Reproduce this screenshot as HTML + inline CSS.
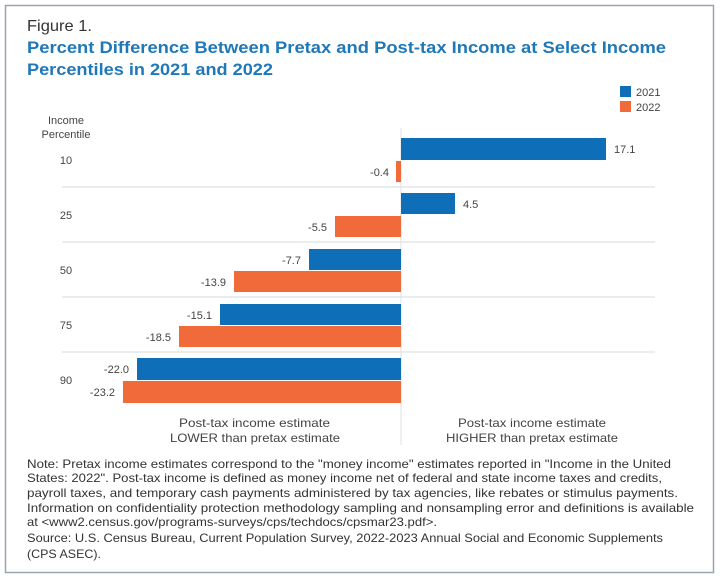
<!DOCTYPE html>
<html><head><meta charset="utf-8"><style>
body{margin:0;width:720px;height:580px;background:#fff;font-family:"Liberation Sans",sans-serif;overflow:hidden}
svg{position:absolute;left:0;top:0}
</style></head><body>
<svg width="720" height="580" font-family="Liberation Sans, sans-serif">
<rect x="5.5" y="5.5" width="708" height="567" fill="#fff" stroke="#9aa3b0" stroke-width="1.5"/>
<text x="27" y="31" font-size="16" fill="#333" textLength="65" lengthAdjust="spacingAndGlyphs">Figure 1.</text>
<text x="27" y="53" font-size="17" font-weight="bold" fill="#1f78b8" textLength="639" lengthAdjust="spacingAndGlyphs">Percent Difference Between Pretax and Post-tax Income at Select Income</text>
<text x="27" y="75" font-size="17" font-weight="bold" fill="#1f78b8" textLength="246" lengthAdjust="spacingAndGlyphs">Percentiles in 2021 and 2022</text>
<rect x="620" y="86" width="11" height="11" fill="#0e6fb8"/>
<text x="636" y="96" font-size="11" fill="#444">2021</text>
<rect x="620" y="101" width="11" height="11" fill="#f06a3a"/>
<text x="636" y="111" font-size="11" fill="#444">2022</text>
<text x="66" y="124" font-size="11" fill="#444" text-anchor="middle">Income</text>
<text x="66" y="138" font-size="11" fill="#444" text-anchor="middle">Percentile</text>
<g stroke="#e4e6ea" stroke-width="1.5">
<line x1="62" y1="187" x2="655" y2="187"/><line x1="62" y1="242" x2="655" y2="242"/>
<line x1="62" y1="297" x2="655" y2="297"/><line x1="62" y1="352" x2="655" y2="352"/>
</g>
<line x1="401" y1="128" x2="401" y2="445" stroke="#e0e0e0"/>
<g font-size="11" fill="#444">
<text x="66" y="164" text-anchor="middle">10</text>
<text x="66" y="219" text-anchor="middle">25</text>
<text x="66" y="274" text-anchor="middle">50</text>
<text x="66" y="329" text-anchor="middle">75</text>
<text x="66" y="384" text-anchor="middle">90</text>
</g>
<rect x="401" y="138" width="205" height="22" fill="#0e6fb8"/>
<rect x="396" y="161" width="5" height="21" fill="#f06a3a"/>
<rect x="401" y="193" width="54" height="21" fill="#0e6fb8"/>
<rect x="335" y="216" width="66" height="21" fill="#f06a3a"/>
<rect x="309" y="249" width="92" height="21" fill="#0e6fb8"/>
<rect x="234" y="271" width="167" height="21" fill="#f06a3a"/>
<rect x="220" y="304" width="181" height="21" fill="#0e6fb8"/>
<rect x="179" y="326" width="222" height="21" fill="#f06a3a"/>
<rect x="137" y="358" width="264" height="22" fill="#0e6fb8"/>
<rect x="123" y="381" width="278" height="22" fill="#f06a3a"/>
<g font-size="11" fill="#444">
<text x="614" y="153">17.1</text>
<text x="389" y="176" text-anchor="end">-0.4</text>
<text x="463" y="208">4.5</text>
<text x="327" y="231" text-anchor="end">-5.5</text>
<text x="301" y="264" text-anchor="end">-7.7</text>
<text x="226" y="286" text-anchor="end">-13.9</text>
<text x="212" y="319" text-anchor="end">-15.1</text>
<text x="171" y="341" text-anchor="end">-18.5</text>
<text x="129" y="373" text-anchor="end">-22.0</text>
<text x="115" y="396" text-anchor="end">-23.2</text>
</g>
<g font-size="12" fill="#444">
<text x="179" y="427" textLength="151" lengthAdjust="spacingAndGlyphs">Post-tax income estimate</text>
<text x="170" y="442" textLength="170" lengthAdjust="spacingAndGlyphs">LOWER than pretax estimate</text>
<text x="458" y="427" textLength="148" lengthAdjust="spacingAndGlyphs">Post-tax income estimate</text>
<text x="446" y="442" textLength="172" lengthAdjust="spacingAndGlyphs">HIGHER than pretax estimate</text>
</g>
<g font-size="12" fill="#333" lengthAdjust="spacingAndGlyphs">
<text x="27" y="468" textLength="644" lengthAdjust="spacingAndGlyphs">Note: Pretax income estimates correspond to the "money income" estimates reported in "Income in the United</text>
<text x="27" y="482" textLength="635" lengthAdjust="spacingAndGlyphs">States: 2022". Post-tax income is defined as money income net of federal and state income taxes and credits,</text>
<text x="27" y="497" textLength="651" lengthAdjust="spacingAndGlyphs">payroll taxes, and temporary cash payments administered by tax agencies, like rebates or stimulus payments.</text>
<text x="27" y="512" textLength="667" lengthAdjust="spacingAndGlyphs">Information on confidentiality protection methodology sampling and nonsampling error and definitions is available</text>
<text x="27" y="526" textLength="410" lengthAdjust="spacingAndGlyphs">at &lt;www2.census.gov/programs-surveys/cps/techdocs/cpsmar23.pdf&gt;.</text>
<text x="27" y="542" textLength="636" lengthAdjust="spacingAndGlyphs">Source: U.S. Census Bureau, Current Population Survey, 2022-2023 Annual Social and Economic Supplements</text>
<text x="27" y="558" textLength="74" lengthAdjust="spacingAndGlyphs">(CPS ASEC).</text>
</g>
</svg>
</body></html>
